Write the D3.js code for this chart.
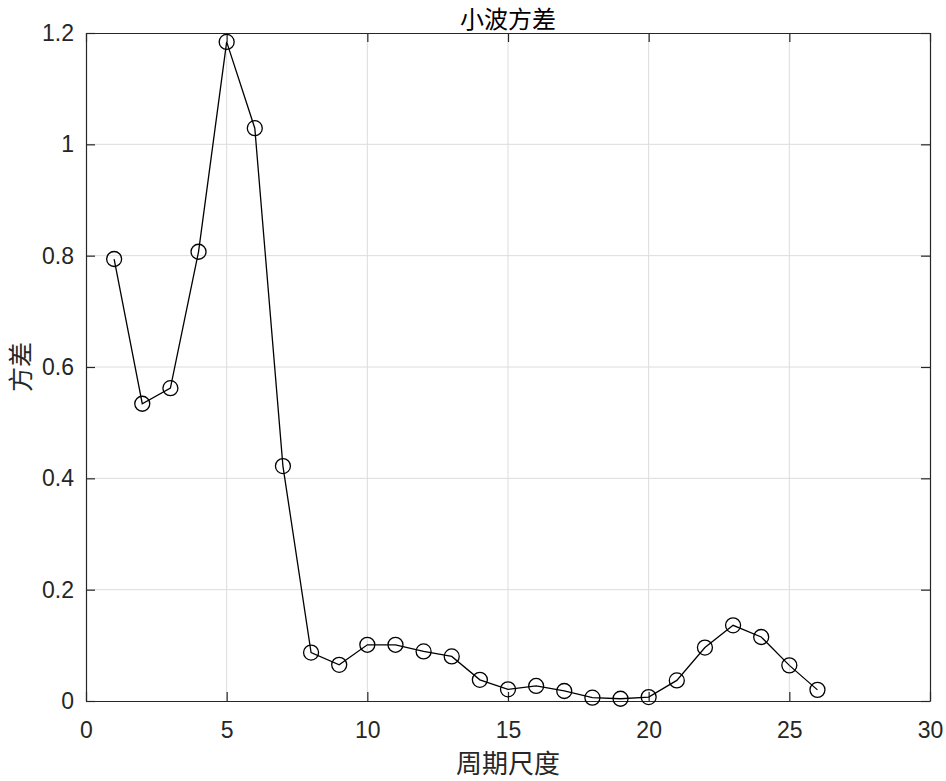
<!DOCTYPE html>
<html><head><meta charset="utf-8">
<script src="https://cdn.jsdelivr.net/npm/d3@7/dist/d3.min.js"></script>
<style>body{margin:0;background:#fff}</style>
</head><body>
<svg id="c" width="946" height="781"></svg>
<script>
const scales = [1,2,3,4,5,6,7,8,9,10,11,12,13,14,15,16,17,18,19,20,21,22,23,24,25,26];
const variance = [0.794,0.534,0.562,0.807,1.184,1.029,0.422,0.087,0.065,0.101,0.101,0.089,0.080,0.038,0.021,0.027,0.018,0.006,0.004,0.007,0.037,0.096,0.136,0.115,0.064,0.020];
const xTicks = [0,5,10,15,20,25,30];
const yTicks = [0,0.2,0.4,0.6,0.8,1,1.2];
const title = "小波方差", xLabel = "周期尺度", yLabel = "方差";

const svg = d3.select("#c");
const L=86,R=930,T=33,B=701;
const x = d3.scaleLinear().domain([0,30]).range([L,R]);
const y = d3.scaleLinear().domain([0,1.2]).range([B,T]);
const axCol="#262626", tf="'Liberation Sans', Arial, sans-serif", cf="'Noto Sans CJK SC', sans-serif";

// grid
svg.append("g").selectAll("line").data(xTicks.slice(1,-1)).join("line")
  .attr("x1",d=>x(d)).attr("x2",d=>x(d)).attr("y1",T).attr("y2",B)
  .attr("stroke","#dcdcdc").attr("stroke-width",1);
svg.append("g").selectAll("line").data(yTicks.slice(1,-1)).join("line")
  .attr("y1",d=>y(d)).attr("y2",d=>y(d)).attr("x1",L).attr("x2",R)
  .attr("stroke","#dcdcdc").attr("stroke-width",1);

// axes
const xa = svg.append("g").attr("transform",`translate(0,${B})`)
  .call(d3.axisBottom(x).tickValues(xTicks).tickSizeInner(-9).tickSizeOuter(0).tickPadding(21).tickFormat(d3.format("d")));
const xt = svg.append("g").attr("transform",`translate(0,${T})`)
  .call(d3.axisTop(x).tickValues(xTicks).tickSizeInner(-9).tickSizeOuter(0).tickFormat(""));
const ya = svg.append("g").attr("transform",`translate(${L},0)`)
  .call(d3.axisLeft(y).tickValues(yTicks).tickSizeInner(-9).tickSizeOuter(0).tickPadding(12).tickFormat(d=>String(d)));
const yr = svg.append("g").attr("transform",`translate(${R},0)`)
  .call(d3.axisRight(y).tickValues(yTicks).tickSizeInner(-9).tickSizeOuter(0).tickFormat(""));
[xa,xt,ya,yr].forEach(g=>{
  g.select(".domain").attr("stroke",axCol).attr("stroke-width",1.2);
  g.selectAll(".tick line").attr("stroke",axCol).attr("stroke-width",1.2);
  g.selectAll(".tick text").attr("fill",axCol).attr("font-family",tf).attr("font-size",23);
});

// line + markers
svg.append("path").datum(scales.map((s,i)=>[s,variance[i]]))
  .attr("d",d3.line().x(d=>x(d[0])).y(d=>y(d[1])))
  .attr("fill","none").attr("stroke","#000").attr("stroke-width",1.3);
svg.append("g").selectAll("circle").data(scales).join("circle")
  .attr("cx",d=>x(d)).attr("cy",(d,i)=>y(variance[i])).attr("r",7.5)
  .attr("fill","none").attr("stroke","#000").attr("stroke-width",1.3);

// labels
svg.append("text").attr("x",(L+R)/2).attr("y",28).attr("text-anchor","middle")
  .attr("font-family",cf).attr("font-size",24).attr("fill","#000").text(title);
svg.append("text").attr("x",(L+R)/2).attr("y",773).attr("text-anchor","middle")
  .attr("font-family",cf).attr("font-size",26).attr("fill",axCol).text(xLabel);
svg.append("text").attr("transform",`translate(30,${(T+B)/2}) rotate(-90)`).attr("text-anchor","middle")
  .attr("font-family",cf).attr("font-size",25).attr("fill",axCol).text(yLabel);
</script>
</body></html>
